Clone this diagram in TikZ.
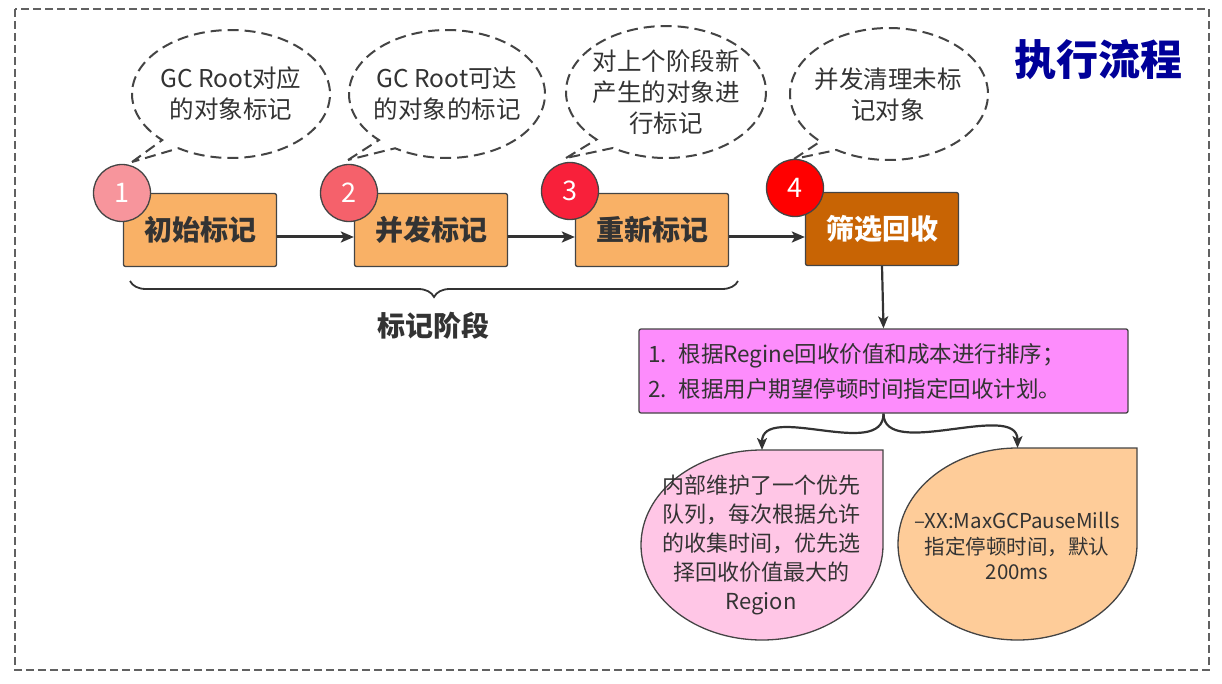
\documentclass[tikz,border=0pt]{standalone}
\usepackage{fontspec}
\setmainfont{Noto Sans CJK SC}
\usetikzlibrary{arrows.meta,decorations.pathreplacing,calc}

\definecolor{ink}{HTML}{333333}
\definecolor{edge}{HTML}{444444}
\definecolor{stagefill}{HTML}{F9B166}
\definecolor{pickfill}{HTML}{C86404}
\definecolor{numa}{HTML}{F7959C}
\definecolor{numb}{HTML}{F5616B}
\definecolor{numc}{HTML}{F8203A}
\definecolor{numd}{HTML}{FF0000}
\definecolor{planfill}{HTML}{FD8CFC}
\definecolor{queuefill}{HTML}{FFC6E6}
\definecolor{pausefill}{HTML}{FECC99}
\definecolor{titleblue}{HTML}{000099}

\begin{document}
\begin{tikzpicture}[x=1pt,y=-1pt,
  frame/.style={draw=black!62, line width=1.8pt, dash pattern=on 8pt off 4pt},
  stagebox/.style={draw=edge, line width=1.3pt, rounded corners=2pt, fill=stagefill,
    minimum width=153pt, minimum height=73pt, inner sep=0pt,
    text=ink, font=\bfseries\fontsize{28}{32}\selectfont},
  numdot/.style={circle, draw=edge, line width=1.3pt, minimum size=57pt, inner sep=0pt,
    text=white, font=\fontsize{27}{30}\selectfont},
  bubble/.style={draw=edge, line width=2pt, dash pattern=on 11pt off 6pt, fill=white},
  bubbletext/.style={align=center, text=ink, font=\fontsize{24.5}{31}\selectfont},
  flow/.style={draw=ink, line width=3pt, -{Stealth[length=13pt,width=11pt,inset=3pt]}},
  branch/.style={draw=ink, line width=2.2pt, -{Stealth[length=12pt,width=10pt,inset=3pt]}},
  drop/.style={draw=edge, line width=1.3pt}
]
\useasboundingbox (0,0) rectangle (1222,684);

% dashed outer frame
\draw[frame] (15,9) rectangle (1209,670);

% title
\node[text=titleblue, font=\bfseries\fontsize{42}{46}\selectfont] (title) at (1098,60) {执行流程};

% speech bubbles above the stages
\draw[bubble, shift={(231,94)}] (-99,68) -- (134:99 and 64)
  arc[start angle=134, end angle=482, x radius=99, y radius=64] -- cycle;
\node[bubbletext] (note1) at (231,94) {GC Root对应\\的对象标记};

\draw[bubble, shift={(447,94)}] (-99,66) -- (134:98 and 64)
  arc[start angle=134, end angle=482, x radius=98, y radius=64] -- cycle;
\node[bubbletext] (note2) at (447,94) {GC Root可达\\的对象的标记};

\draw[bubble, shift={(666,92)}] (-100,66) -- (134:100 and 66)
  arc[start angle=134, end angle=482, x radius=100, y radius=66] -- cycle;
\node[bubbletext] (note3) at (666,92) {对上个阶段新\\产生的对象进\\行标记};

\draw[bubble, shift={(889,94)}] (-95,65) -- (134:99 and 66)
  arc[start angle=134, end angle=482, x radius=99, y radius=66] -- cycle;
\node[bubbletext] (note4) at (888,95) {并发清理未标\\记对象};

% the four stages
\node[stagebox] (s1) at (200,230) {初始标记};
\node[stagebox] (s2) at (431,230) {并发标记};
\node[stagebox] (s3) at (652,230) {重新标记};
\node[stagebox, fill=pickfill, text=white] (s4) at (882,229) {筛选回收};

\node[numdot, fill=numa] (n1) at (122,193) {1};
\node[numdot, fill=numb] (n2) at (349,193) {2};
\node[numdot, fill=numc] (n3) at (570,191) {3};
\node[numdot, fill=numd] (n4) at (795,188) {4};

\draw[flow] ($(s1.east)+(0,7)$) -- ($(s2.west)+(0,7)$);
\draw[flow] ($(s2.east)+(0,7)$) -- ($(s3.west)+(0,7)$);
\draw[flow] ($(s3.east)+(0,7)$) -- ($(s4.west)+(0,8)$);

% brace grouping the marking stages
\coordinate (bl) at (130,281);
\coordinate (br) at (738,281);
\draw[ink, line width=1.8pt, decorate, decoration={brace, mirror, amplitude=16pt}] (bl) -- (br);
\node[text=ink, font=\bfseries\fontsize{28}{32}\selectfont] (phase) at (433,326) {标记阶段};

% selection plan
\node[draw=edge, line width=1.3pt, rounded corners=2pt, fill=planfill,
  minimum width=489pt, minimum height=84pt, text width=470pt, align=left,
  inner sep=0pt, text=ink, font=\fontsize{22.5}{35}\selectfont]
  (plan) at (883.5,371) {1. 根据Regine回收价值和成本进行排序；\\2. 根据用户期望停顿时间指定回收计划。};

\draw[branch] (s4.south) -- (plan.north);

% detail shapes below the plan
\draw[drop, fill=queuefill] (883,450) -- (883,545)
  arc[start angle=0, end angle=270, x radius=121, y radius=95] -- cycle;
\coordinate (queuetop) at (762,450);
\node[align=center, text=ink, font=\fontsize{22}{29}\selectfont] (queue) at (761,545)
  {内部维护了一个优先\\队列，每次根据允许\\的收集时间，优先选\\择回收价值最大的\\Region};

\draw[drop, fill=pausefill] (1137,448) -- (1137,544)
  arc[start angle=0, end angle=270, x radius=119.5, y radius=96] -- cycle;
\coordinate (pausetop) at (1017.5,448);
\node[align=center, text=ink, font=\fontsize{20.5}{25.5}\selectfont] (pause) at (1017,546)
  {–XX:MaxGCPauseMills\\指定停顿时间，默认\\200ms};

\draw[branch] (plan.south) .. controls +(0,47) and +(0,-48) .. (queuetop);
\draw[branch] (plan.south) .. controls +(0,47) and +(0,-48) .. (pausetop);
\end{tikzpicture}
\end{document}
